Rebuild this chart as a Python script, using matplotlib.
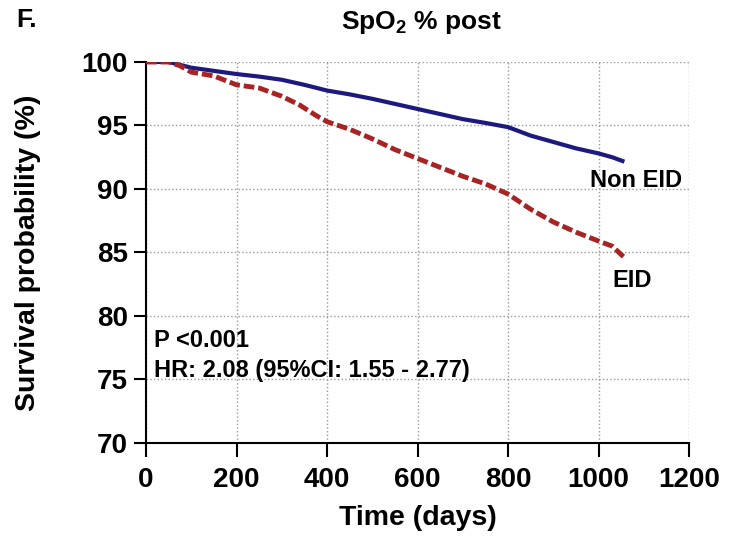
import matplotlib
matplotlib.use("Agg")
import matplotlib.pyplot as plt

plt.rcParams['font.family'] = ['Liberation Sans', 'DejaVu Sans']
plt.rcParams['font.weight'] = 'bold'
plt.rcParams['mathtext.fontset'] = 'custom'
plt.rcParams['mathtext.rm'] = 'Liberation Sans:bold'
plt.rcParams['mathtext.bf'] = 'Liberation Sans:bold'
plt.rcParams['mathtext.default'] = 'bf'

non_eid_days = [0, 50, 100, 150, 200, 250, 300, 350, 400, 450, 500, 550, 600,
                650, 700, 750, 800, 850, 900, 950, 1000, 1030, 1057]
non_eid_surv = [100, 100, 99.55, 99.3, 99.05, 98.85, 98.6, 98.2, 97.75, 97.45,
                97.1, 96.7, 96.3, 95.9, 95.5, 95.2, 94.87, 94.2, 93.7, 93.2,
                92.8, 92.5, 92.15]

eid_days = [0, 50, 75, 100, 150, 200, 250, 300, 340, 375, 400, 450, 500, 550,
            600, 650, 700, 750, 800, 850, 900, 950, 1000, 1030, 1057]
eid_surv = [100, 100, 99.7, 99.2, 98.9, 98.2, 97.95, 97.3, 96.6, 95.8, 95.3,
            94.7, 93.95, 93.1, 92.4, 91.7, 91.0, 90.4, 89.6, 88.4, 87.4, 86.6,
            85.9, 85.5, 84.6]

x_ticks = [0, 200, 400, 600, 800, 1000, 1200]
y_ticks = [70, 75, 80, 85, 90, 95, 100]

fig = plt.figure(figsize=(7.3, 5.38), dpi=100)
ax = fig.add_axes([0.2, 0.1766, 0.744, 0.7082])

ax.plot(non_eid_days, non_eid_surv, color='#1c1a7e', lw=3.0, solid_capstyle='butt', zorder=3)
ax.plot(eid_days, eid_surv, color='#a82424', lw=3.5, ls=(0, (2.2, 0.8)), zorder=3)

ax.set_xlim(0, 1200)
ax.set_ylim(70, 100)
ax.set_xticks(x_ticks)
ax.set_yticks(y_ticks)
ax.tick_params(axis='x', direction='out', length=10, width=1.5, labelsize=20, pad=7)
ax.tick_params(axis='y', direction='out', length=9, width=1.5, labelsize=20, pad=4)
for lab in ax.get_xticklabels() + ax.get_yticklabels():
    lab.set_fontweight('bold')

ax.spines['top'].set_visible(False)
ax.spines['right'].set_visible(False)
ax.spines['left'].set_linewidth(1.5)
ax.spines['bottom'].set_linewidth(1.5)
ax.grid(True, color='#999999', ls=':', lw=1.0)
ax.set_axisbelow(True)

ax.set_xlabel('Time (days)', fontsize=20.5, fontweight='bold', labelpad=9)
ax.set_ylabel('Survival probability (%)', fontsize=20.5, fontweight='bold')
ax.yaxis.set_label_coords(-0.193, 0.5)

fig.text(0.578, 0.958, r'SpO$_2$ % post', fontsize=19, fontweight='bold', ha='center', va='center')
fig.text(0.022, 0.962, 'F.', fontsize=19, fontweight='bold', ha='left', va='center')

ax.text(18, 78.1, 'P <0.001', fontsize=17, fontweight='bold', ha='left', va='center')
ax.text(18, 75.7, 'HR: 2.08 (95%CI: 1.55 - 2.77)', fontsize=17, fontweight='bold', ha='left', va='center')
ax.text(1082, 90.7, 'Non EID', fontsize=17, fontweight='bold', ha='center', va='center')
ax.text(1075, 82.8, 'EID', fontsize=17, fontweight='bold', ha='center', va='center')

fig.savefig('out.png', dpi=100)
